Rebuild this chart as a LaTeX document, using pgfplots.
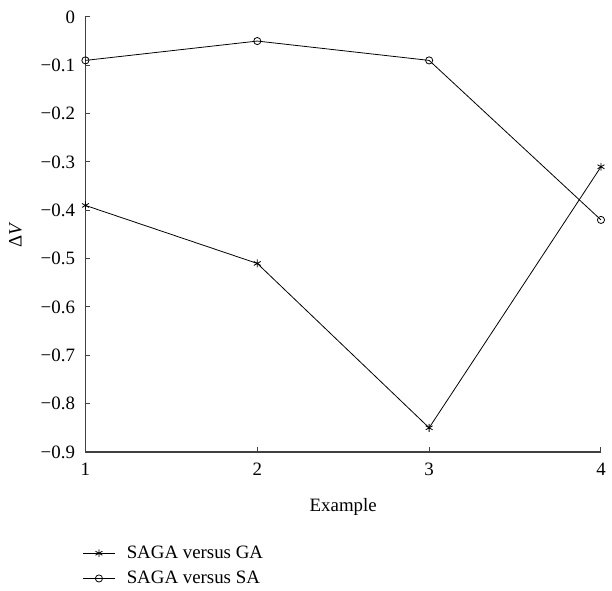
\documentclass[border=0pt]{standalone}
\usepackage{fontspec}
\setmainfont{Liberation Serif}
\usepackage{pgfplots}
\pgfplotsset{compat=1.18}
\begin{document}
\fontsize{19}{22}\selectfont
\begin{tikzpicture}
\begin{axis}[
  scale only axis,
  width=519pt, height=438pt,
  xmin=1, xmax=4, ymin=-0.9, ymax=0,
  axis lines=left,
  axis line style={-, line width=1.2pt, black!75},
  tick style={line width=1pt, black!75},
  tick align=inside,
  major tick length=5pt,
  xtick={1,2,3,4},
  xticklabels={1,2,3,4},
  ytick={-0.9,-0.8,-0.7,-0.6,-0.5,-0.4,-0.3,-0.2,-0.1,0},
  yticklabels={−0.9,−0.8,−0.7,−0.6,−0.5,−0.4,−0.3,−0.2,−0.1,0},
  ticklabel style={font=\fontsize{19}{22}\selectfont},
  xticklabel style={yshift=-5pt},
  yticklabel style={xshift=-4pt},
  xlabel={Example},
  ylabel={Δ\textit{V}},
  label style={font=\fontsize{19}{22}\selectfont},
  xlabel style={yshift=-10pt},
  ylabel style={yshift=6pt},
  clip=false,
  legend style={draw=none, fill=none, at={(-6pt,-90pt)}, anchor=north west,
    font=\fontsize{19}{22}\selectfont, row sep=6pt, cells={anchor=west}},
  legend cell align=left,
  legend image code/.code={
    \draw[#1, mark=none] (0pt,0pt) -- (32pt,0pt);
    \draw[#1, only marks] plot coordinates {(16pt,0pt)};
    \path[draw=none, fill=none] (0pt,0pt) rectangle (42pt,0pt);
  },
]
\addplot[black, line width=0.8pt, mark=asterisk, mark size=4pt, mark options={solid, line width=0.8pt}]
  coordinates {(1,-0.39) (2,-0.51) (3,-0.85) (4,-0.31)};
\addlegendentry{SAGA versus GA}
\addplot[black, line width=0.8pt, mark=o, mark size=3.6pt, mark options={solid, line width=0.8pt}]
  coordinates {(1,-0.09) (2,-0.05) (3,-0.09) (4,-0.42)};
\addlegendentry{SAGA versus SA}
\end{axis}
\path (-86pt,-139pt) rectangle ++(612pt,594pt);
\end{tikzpicture}
\end{document}
